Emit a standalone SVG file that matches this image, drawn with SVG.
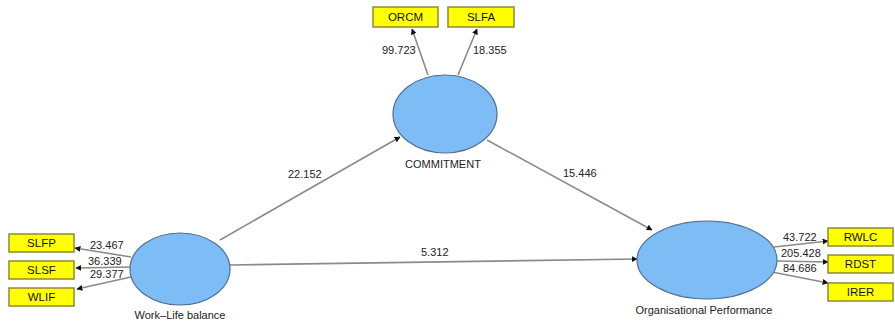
<svg xmlns="http://www.w3.org/2000/svg" width="895" height="322" viewBox="0 0 895 322">
<defs>
<marker id="ah" viewBox="0 0 10 10" refX="9" refY="5" markerWidth="6" markerHeight="6" orient="auto" markerUnits="userSpaceOnUse">
<path d="M0,0 L10,5 L0,10 z" fill="#111"/>
</marker>
<style>
.lv{fill:#7dbcf4;stroke:#4f6f94;stroke-width:1.2}
.ind{fill:#ffff00;stroke:#8c8a3a;stroke-width:1.5}
.t{font-family:"Liberation Sans",Arial,sans-serif;font-size:11px;fill:#222}
.bt{font-family:"Liberation Sans",Arial,sans-serif;font-size:11.5px;fill:#111;text-anchor:middle}
.c{stroke:#8a8a8a;stroke-width:1.6;fill:none;marker-end:url(#ah)}
</style>
</defs>
<rect width="895" height="322" fill="#fff"/>
<g id="connectors">
<line class="c" x1="428" y1="75" x2="412" y2="29"/>
<line class="c" x1="458" y1="75" x2="477" y2="29"/>
<line class="c" x1="131" y1="257" x2="75" y2="248"/>
<line class="c" x1="130" y1="267" x2="76" y2="268"/>
<line class="c" x1="131" y1="277" x2="77" y2="289"/>
<line class="c" x1="774" y1="247" x2="828" y2="241"/>
<line class="c" x1="777" y1="261" x2="828" y2="262"/>
<line class="c" x1="772" y1="272" x2="828" y2="283"/>
<line class="c" x1="220" y1="240" x2="400" y2="137"/>
<line class="c" x1="487" y1="140" x2="652" y2="230"/>
<line class="c" x1="230" y1="265" x2="637" y2="259"/>
<text class="t" x="382" y="54">99.723</text>
<text class="t" x="473" y="54">18.355</text>
<text class="t" x="90" y="249">23.467</text>
<text class="t" x="88" y="265">36.339</text>
<text class="t" x="90" y="278">29.377</text>
<text class="t" x="783" y="241">43.722</text>
<text class="t" x="781" y="257">205.428</text>
<text class="t" x="783" y="272">84.686</text>
<text class="t" x="288" y="178">22.152</text>
<text class="t" x="563" y="177">15.446</text>
<text class="t" x="421" y="256">5.312</text>
</g>
<g id="commitment">
<ellipse class="lv" cx="445" cy="114" rx="52" ry="39"/>
<text class="t" x="443" y="168" text-anchor="middle">COMMITMENT</text>
</g>
<g id="worklife">
<ellipse class="lv" cx="180" cy="269" rx="50" ry="36"/>
<text class="t" x="180" y="319" text-anchor="middle">Work–Life balance</text>
</g>
<g id="orgperf">
<ellipse class="lv" cx="707" cy="260" rx="70" ry="39"/>
<text class="t" x="704" y="314" text-anchor="middle">Organisational Performance</text>
</g>
<g id="ORCM"><rect class="ind" x="373" y="7" width="65" height="20"/><text class="bt" x="405.5" y="21">ORCM</text></g>
<g id="SLFA"><rect class="ind" x="448" y="7" width="66" height="20"/><text class="bt" x="481" y="21">SLFA</text></g>
<g id="SLFP"><rect class="ind" x="9" y="234" width="65" height="18"/><text class="bt" x="41.5" y="247">SLFP</text></g>
<g id="SLSF"><rect class="ind" x="9" y="261" width="65" height="18"/><text class="bt" x="41.5" y="274">SLSF</text></g>
<g id="WLIF"><rect class="ind" x="9" y="288" width="65" height="18"/><text class="bt" x="41.5" y="301">WLIF</text></g>
<g id="RWLC"><rect class="ind" x="828" y="228" width="65" height="18"/><text class="bt" x="860.5" y="241">RWLC</text></g>
<g id="RDST"><rect class="ind" x="828" y="255" width="65" height="18"/><text class="bt" x="860.5" y="268">RDST</text></g>
<g id="IRER"><rect class="ind" x="828" y="283" width="65" height="18"/><text class="bt" x="860.5" y="296">IRER</text></g>
</svg>
